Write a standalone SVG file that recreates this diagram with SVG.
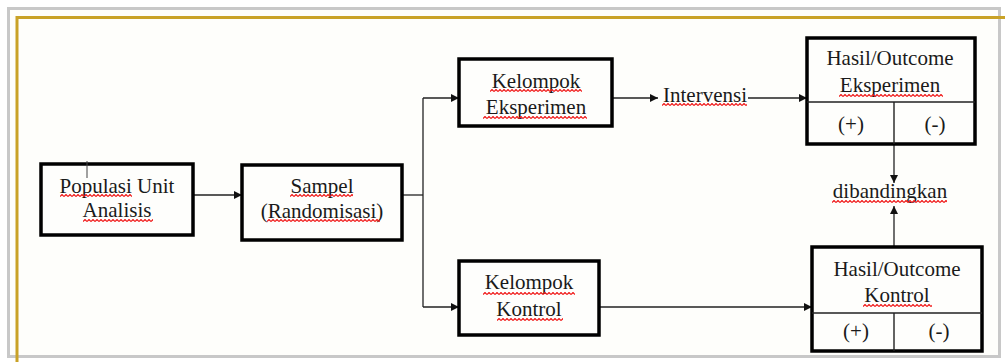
<svg xmlns="http://www.w3.org/2000/svg" width="1005" height="362" viewBox="0 0 1005 362">
  <style>
    .box { fill: #fefefc; stroke: #000; stroke-width: 3.5; }
    .cell { fill: none; stroke: #222; stroke-width: 1.4; }
    .lbl { font-family: "Liberation Serif", "Times New Roman", serif; font-size: 21px; fill: #1a1a1a; text-anchor: middle; }
    .wire { fill: none; stroke: #222; stroke-width: 1.3; }
    .wavy { fill: url(#squiggle); }
  </style>
  <defs>
    <marker id="arrow" viewBox="0 0 10 10" refX="10" refY="5" markerWidth="8" markerHeight="8" markerUnits="userSpaceOnUse" orient="auto">
      <path d="M0,0 L10,5 L0,10 Z" fill="#111"/>
    </marker>
    <!-- red wavy spelling underline -->
    <pattern id="squiggle" width="4" height="3" patternUnits="userSpaceOnUse">
      <path d="M0,2.5 L2,0.5 L4,2.5" fill="none" stroke="#f01818" stroke-width="1.2"/>
    </pattern>
  </defs>

  <!-- page background and frame -->
  <rect x="0" y="0" width="1005" height="362" fill="#ffffff"/>
  <rect x="8.5" y="8.5" width="991" height="348" fill="#fefefb" stroke="#c8c8c8" stroke-width="3"/>
  <path d="M17,362 V17.5 H1005" fill="none" stroke="#c9a227" stroke-width="3"/>

  <!-- connectors -->
  <g id="connectors">
    <path class="wire" d="M193,195 H242" marker-end="url(#arrow)"/>
    <path class="wire" d="M402,195 H423"/>
    <path class="wire" d="M423,98 V307"/>
    <path class="wire" d="M423,98 H459" marker-end="url(#arrow)"/>
    <path class="wire" d="M423,307 H459" marker-end="url(#arrow)"/>
    <path class="wire" d="M612,98 H658" marker-end="url(#arrow)"/>
    <path class="wire" d="M748,98 H807" marker-end="url(#arrow)"/>
    <path class="wire" d="M599,307 H812" marker-end="url(#arrow)"/>
    <path class="wire" d="M894,144 V183" marker-end="url(#arrow)"/>
    <path class="wire" d="M894,247 V206" marker-end="url(#arrow)"/>
  </g>

  <g id="populasi">
    <rect class="box" x="41" y="164" width="152" height="71"/>
    <text class="lbl" x="117" y="193">Populasi Unit</text>
    <text class="lbl" x="117" y="217">Analisis</text>
    <rect class="wavy" transform="translate(60,194)" width="72" height="3"/>
    <rect class="wavy" transform="translate(83,219)" width="70" height="3"/>
    <path d="M87,161 V178" stroke="#444" stroke-width="1"/>
  </g>

  <g id="sampel">
    <rect class="box" x="242" y="165" width="160" height="75"/>
    <text class="lbl" x="322" y="193">Sampel</text>
    <text class="lbl" x="322" y="218">(Randomisasi)</text>
    <rect class="wavy" transform="translate(290,194)" width="63" height="3"/>
    <rect class="wavy" transform="translate(267,219)" width="113" height="3"/>
  </g>

  <g id="kelompok-eksperimen">
    <rect class="box" x="459" y="59" width="153" height="67"/>
    <text class="lbl" x="536" y="88">Kelompok</text>
    <text class="lbl" x="536" y="114">Eksperimen</text>
    <rect class="wavy" transform="translate(490,89)" width="92" height="3"/>
    <rect class="wavy" transform="translate(483,116)" width="104" height="3"/>
  </g>

  <g id="intervensi">
    <text class="lbl" x="705" y="102">Intervensi</text>
    <rect class="wavy" transform="translate(662,103)" width="85" height="3"/>
  </g>

  <g id="kelompok-kontrol">
    <rect class="box" x="459" y="261" width="140" height="74"/>
    <text class="lbl" x="529" y="289">Kelompok</text>
    <text class="lbl" x="529" y="316">Kontrol</text>
    <rect class="wavy" transform="translate(483,292)" width="92" height="3"/>
    <rect class="wavy" transform="translate(497,318)" width="66" height="3"/>
  </g>

  <g id="hasil-eksperimen">
    <rect class="box" x="807" y="38" width="168" height="106" stroke-width="3"/>
    <path class="cell" d="M807,102 H975 M894,102 V144"/>
    <text class="lbl" x="890" y="65">Hasil/Outcome</text>
    <text class="lbl" x="890" y="92">Eksperimen</text>
    <rect class="wavy" transform="translate(839,94)" width="104" height="3"/>
    <text class="lbl" x="851" y="131">(+)</text>
    <text class="lbl" x="935" y="131">(-)</text>
  </g>

  <g id="dibandingkan">
    <text class="lbl" x="890" y="198">dibandingkan</text>
    <rect class="wavy" transform="translate(832,200)" width="115" height="3"/>
  </g>

  <g id="hasil-kontrol">
    <rect class="box" x="812" y="247" width="170" height="104" stroke-width="3"/>
    <path class="cell" d="M812,313 H982 M894,313 V351"/>
    <text class="lbl" x="897" y="276">Hasil/Outcome</text>
    <text class="lbl" x="897" y="302">Kontrol</text>
    <rect class="wavy" transform="translate(863,304)" width="69" height="3"/>
    <text class="lbl" x="856" y="338">(+)</text>
    <text class="lbl" x="939" y="338">(-)</text>
  </g>
</svg>
